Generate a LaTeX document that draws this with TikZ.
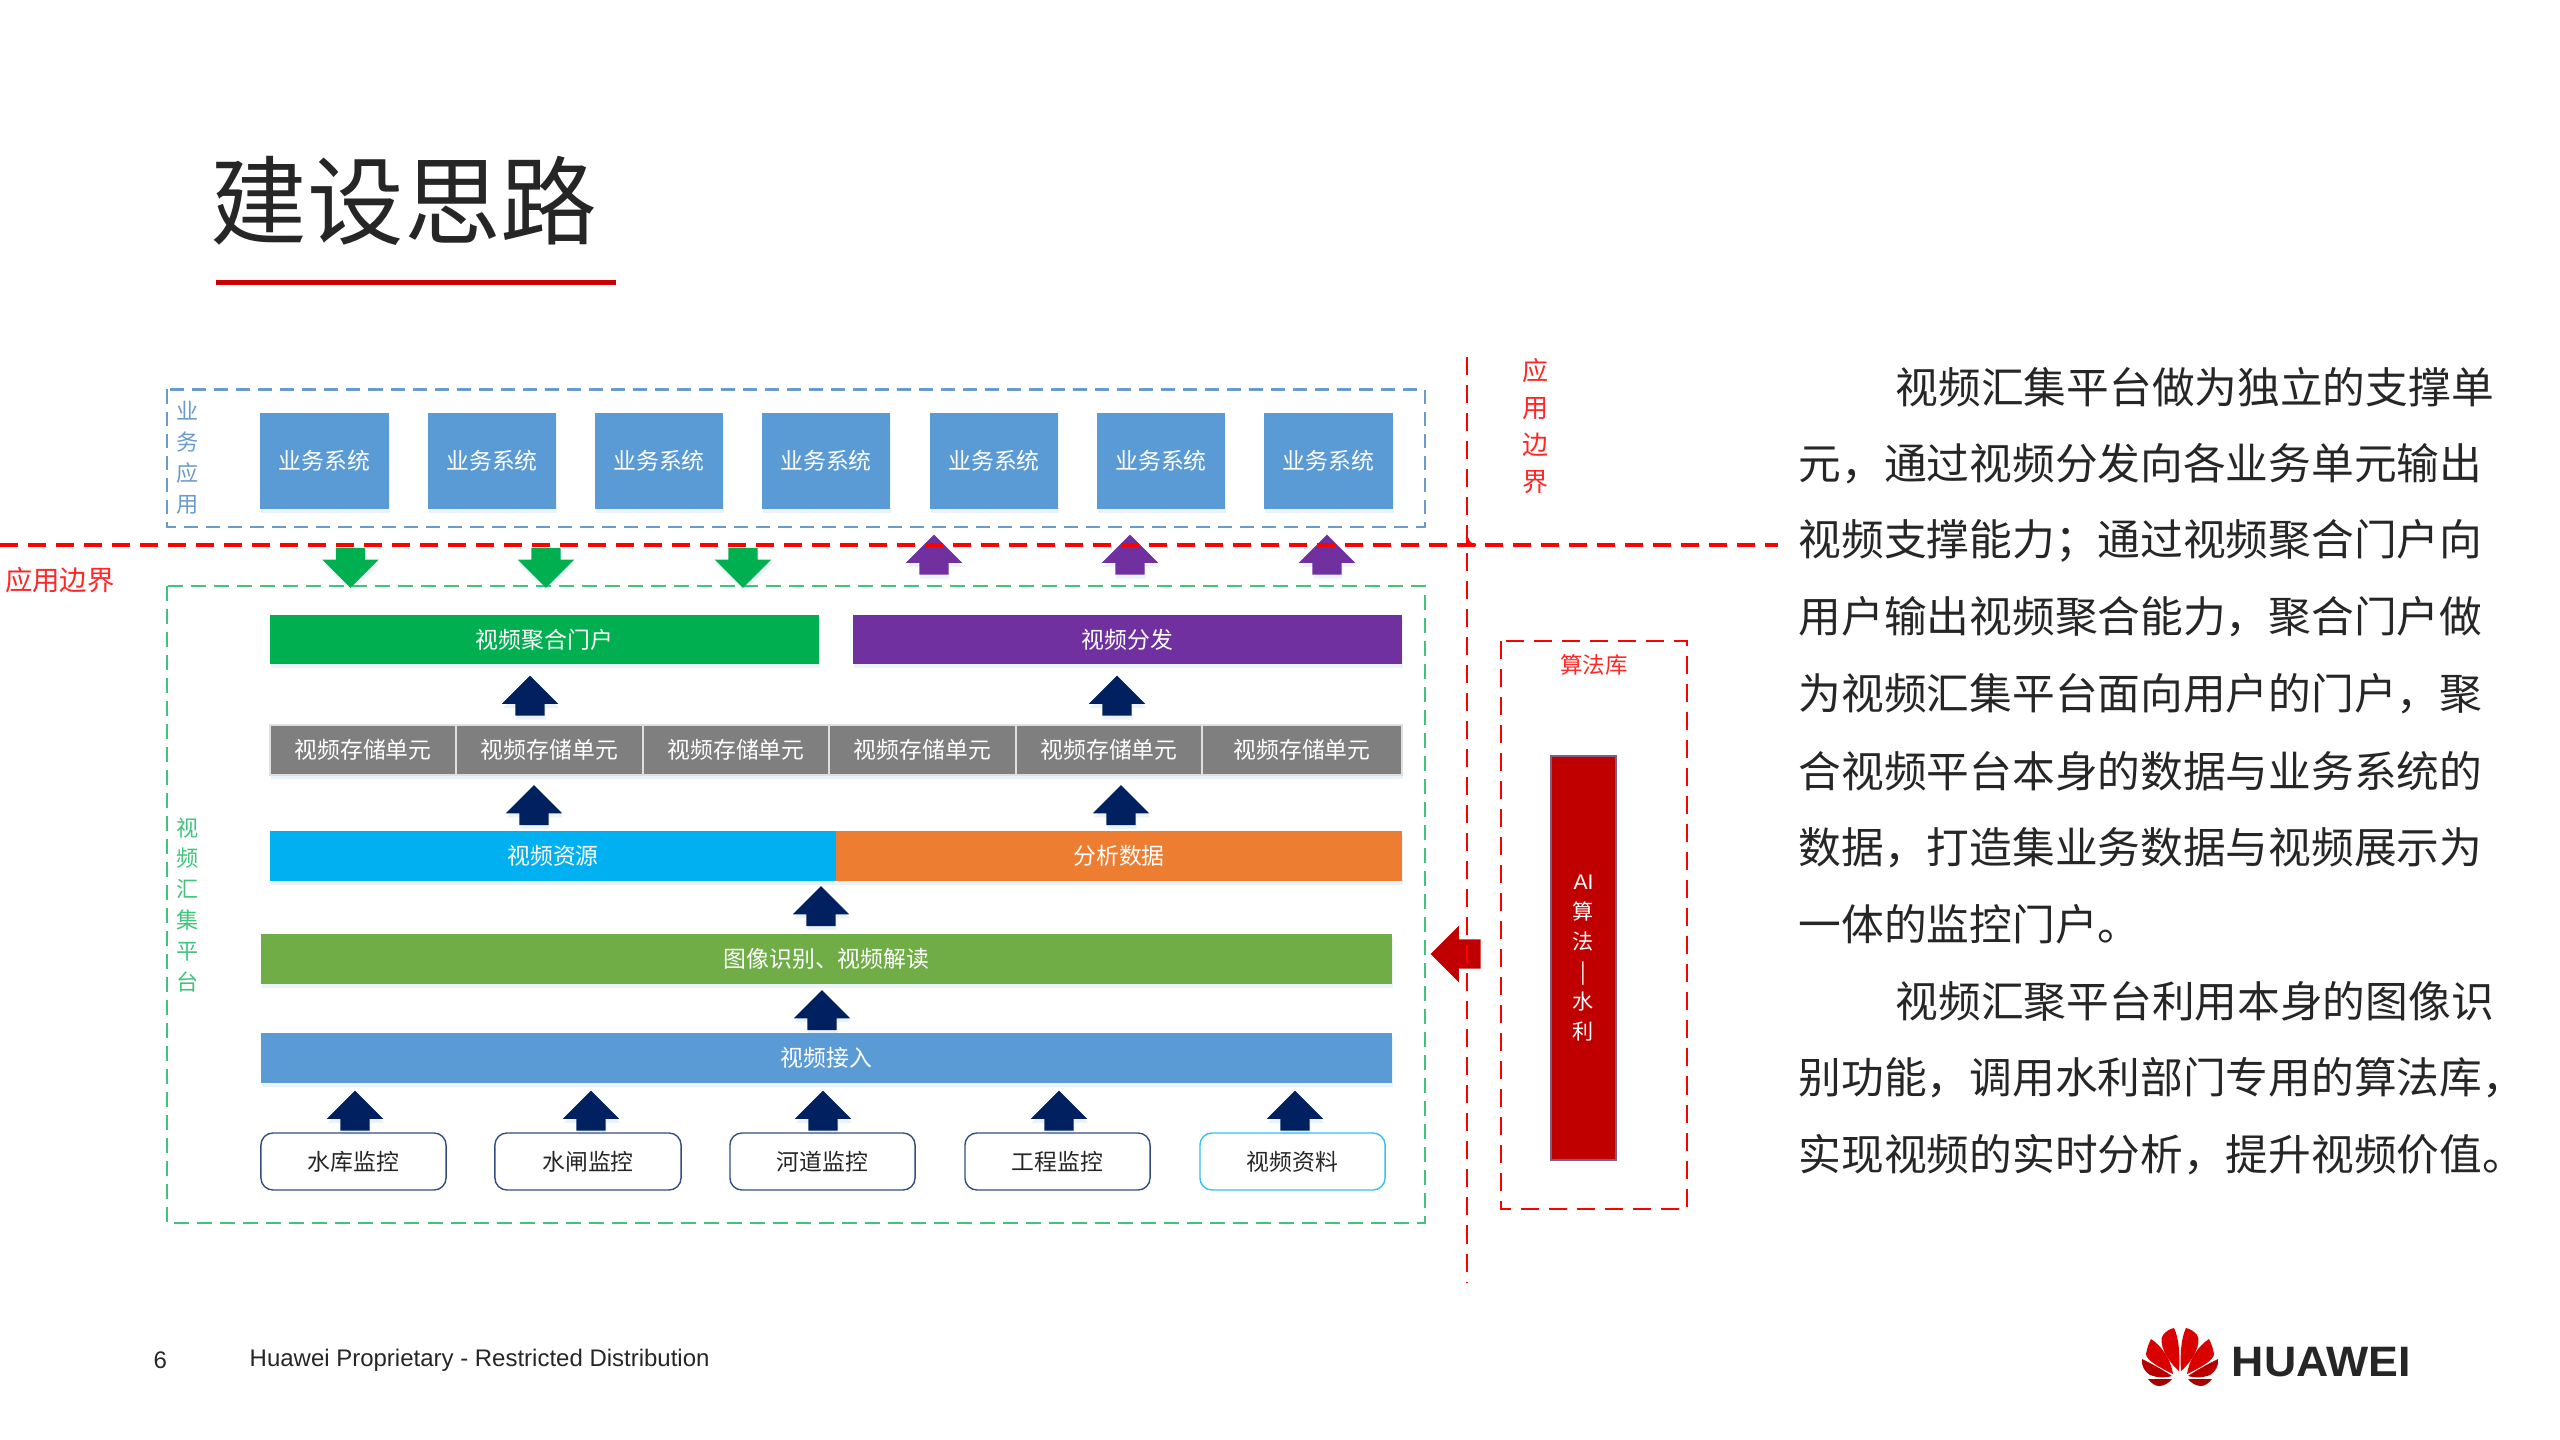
\documentclass[tikz,border=0pt]{standalone}
\usepackage{fontspec}
\setmainfont{Noto Sans CJK SC}
\newfontfamily\latinfont{Liberation Sans}
\definecolor{HWblue}{HTML}{5B9BD5}
\definecolor{HWframe}{HTML}{6A9BCB}
\definecolor{HWgreen}{HTML}{00B050}
\definecolor{HWpurple}{HTML}{7030A0}
\definecolor{HWgray}{HTML}{7F7F7F}
\definecolor{HWcyan}{HTML}{00B0F0}
\definecolor{HWorange}{HTML}{ED7D31}
\definecolor{HWleaf}{HTML}{70AD47}
\definecolor{HWnavy}{HTML}{002060}
\definecolor{HWred}{HTML}{C00000}
\definecolor{HWline}{HTML}{FF0000}
\definecolor{HWink}{HTML}{262626}
\usetikzlibrary{shapes.arrows, shadows}
\tikzset{
   softshadow/.style={drop shadow={shadow xshift=0.01cm, shadow yshift=-0.04cm, opacity=0.12, fill=HWblue}},
   tinyfont/.style={font=\fontsize{6.5}{8}\selectfont},
   barbox/.style={rectangle, fill=#1, inner sep=0pt, text=white, tinyfont, softshadow},
   sysbox/.style={barbox=HWblue, minimum width=1.28cm, minimum height=0.96cm},
   wideblue/.style={minimum width=11.31cm, minimum height=0.5cm},
   cellbox/.style={barbox=HWgray, draw=white!75!HWgray, line width=0.4pt, minimum height=0.5cm},
   srcbox/.style={rectangle, rounded corners=0.12cm, draw=#1, fill=white, line width=0.4pt, inner sep=0pt,
      minimum height=0.57cm, text=HWink, tinyfont},
   frameblue/.style={draw=HWframe, dash pattern=on 0.14cm off 0.08cm, line width=0.6pt},
   framegreen/.style={draw=HWgreen!75!white, dash pattern=on 0.15cm off 0.08cm, line width=0.6pt},
   redline/.style={draw=HWline, dash pattern=on 0.18cm off 0.10cm, line width=0.8pt},
   blockup/.style={single arrow, fill=#1, draw=none, inner xsep=0.14cm, inner ysep=0pt, minimum height=0.4cm,
      single arrow head extend=0.135cm, shape border rotate=90, yshift=-0.06cm, softshadow},
   blockdown/.style={blockup=#1, shape border rotate=270, yshift=0.12cm},
   sidetext/.style={align=center, inner sep=0pt},
   bodyline/.style={anchor=west, inner sep=0pt, text=HWink, font=\fontsize{12.15}{14}\selectfont},
}
\begin{document}
\begin{tikzpicture}[x=0.01cm, y=-0.01cm]
   \useasboundingbox (0,0) rectangle (2560,1440);
   % Title
   \node[inner sep=0pt, text=HWink, font=\fontsize{27.5}{30}\selectfont] (title) at (404,201) {建设思路};
   \fill[red!80!black] (216,280) rectangle (616,285.5);
   % Frames
   \draw[frameblue] (167,389.5) rectangle (1425,527);
   \draw[framegreen] (167,586) rectangle (1425,1223);
   \draw[redline] (1501,641) rectangle (1687,1209);
   % Business systems
   \foreach \cx [count=\i] in {324.5,492,659,826,994,1161,1328.5}
      \node[sysbox] (sys\i) at (\cx,461) {业务系统};
   \node[sidetext, text=HWframe, font=\fontsize{6.3}{8.8}\selectfont] (bizlabel) at (188,458) {业\\务\\应\\用};
   % Portal and distribution
   \node[barbox=HWgreen, minimum width=5.49cm, minimum height=0.49cm] (portal) at (544.5,639.5) {视频聚合门户};
   \node[barbox=HWpurple, minimum width=5.49cm, minimum height=0.49cm] (dist) at (1127.5,639.5) {视频分发};
   % Storage cells
   \foreach \cx/\w [count=\i] in {363/1.86,549.5/1.87,736/1.86,922.5/1.87,1109/1.86,1302/2.00}
      \node[cellbox, minimum width=\w cm] (cell\i) at (\cx,750) {视频存储单元};
   % Stacked bars
   \node[barbox=HWcyan, minimum width=5.66cm, minimum height=0.5cm] (video) at (553,856) {视频资源};
   \node[barbox=HWorange, minimum width=5.66cm, minimum height=0.5cm] (data) at (1119,856) {分析数据};
   \node[barbox=HWleaf, wideblue] (ident) at (826.5,959) {图像识别、视频解读};
   \node[barbox=HWblue, wideblue] (access) at (826.5,1058) {视频接入};
   % Sources
   \foreach \cx/\w/\col/\txt [count=\i] in {353.5/1.85/HWnavy!80!white/水库监控, 588/1.86/HWnavy!80!white/水闸监控, 822.5/1.85/HWnavy!80!white/河道监控,
         1057.5/1.85/HWnavy!80!white/工程监控, 1292.5/1.85/HWcyan!80!white/视频资料}
      \node[srcbox=\col, minimum width=\w cm] (src\i) at (\cx,1161.5) {\txt};
   % Arrows between the layers
   \foreach \cx [count=\i] in {355,591,823,1059,1295}
      \node[blockup=HWnavy] (srcup\i) at (\cx,1112) {};
   \node[blockup=HWnavy] (accessup) at (822,1011.5) {};
   \node[blockup=HWnavy] (identup) at (821,907.5) {};
   \node[blockup=HWnavy] (videoup) at (534,806.5) {};
   \node[blockup=HWnavy] (dataup) at (1121,806.5) {};
   \node[blockup=HWnavy] (cellup) at (530,697) {};
   \node[blockup=HWnavy] (celluptwo) at (1117,697) {};
   \foreach \cx [count=\i] in {350.5,546,743}
      \node[blockdown=HWgreen] (down\i) at (\cx,566.5) {};
   \foreach \cx [count=\i] in {934,1130,1327}
      \node[blockup=HWpurple] (up\i) at (\cx,556) {};
   \node[single arrow, fill=HWred, inner xsep=0pt, inner ysep=0.14cm, minimum height=0.5cm,
      single arrow head extend=0.135cm, shape border rotate=180] (algoarrow) at (1463,954) {};
   % Algorithm bar
   \node[rectangle, fill=HWred, draw=HWblue!60!HWred, line width=0.4pt, minimum width=0.65cm, minimum height=4.04cm] (algobar) at (1583.5,958) {};
   \node[sidetext, text=white, font=\fontsize{6}{8.5}\selectfont] (algotext) at (1583.5,958) {{\latinfont AI}\\算\\法\\|\\水\\利};
   \node[inner sep=0pt, text=HWline!85!white, font=\fontsize{6.4}{8}\selectfont] (algolabel) at (1594,665) {算法库};
   % Platform label
   \node[sidetext, text=HWgreen!75!white, font=\fontsize{6.3}{8.8}\selectfont] (platlabel) at (188,905) {视\\频\\汇\\集\\平\\台};
   % Boundary lines
   \coordinate (hleft) at (0,545);
   \coordinate (hright) at (1778,545);
   \coordinate (vtop) at (1467,357);
   \coordinate (vbot) at (1467,1282);
   \coordinate (bend) at (1467,538);
   \coordinate (bendend) at (1476,545);
   \draw[redline, line width=1pt] (hleft) -- (hright);
   \draw[redline] (vtop) -- (vbot);
   \draw[HWline, line width=0.8pt] (bend) .. controls (1468,543) and (1471,545) .. (bendend);
   \node[inner sep=0pt, text=HWline!85!white, font=\fontsize{7.8}{9}\selectfont] (leftbound) at (60,580) {应用边界};
   \node[sidetext, text=HWline!85!white, font=\fontsize{7.4}{10.5}\selectfont] (rightbound) at (1535,426) {应\\用\\边\\界};
   % Description
   \foreach \px/\py/\txt [count=\i] in {1895/387/视频汇集平台做为独立的支撑单,
         1798/464/元，通过视频分发向各业务单元输出,
         1798/541/视频支撑能力；通过视频聚合门户向,
         1798/617/用户输出视频聚合能力，聚合门户做,
         1798/694/为视频汇集平台面向用户的门户，聚,
         1798/771/合视频平台本身的数据与业务系统的,
         1798/848/数据，打造集业务数据与视频展示为,
         1798/924/一体的监控门户。,
         1895/1001/视频汇聚平台利用本身的图像识,
         1798/1078/别功能，调用水利部门专用的算法库，,
         1798/1155/实现视频的实时分析，提升视频价值。}
      \node[bodyline] (line\i) at (\px,\py) {\txt};
   % Footer
   \node[anchor=west, inner sep=0pt, text=HWink, font=\latinfont\fontsize{6.82}{8}\selectfont] (pagenum) at (153,1360) {6};
   \node[anchor=west, inner sep=0pt, text=HWink, font=\latinfont\fontsize{6.82}{8}\selectfont] (footer) at (249,1360) {Huawei Proprietary - Restricted Distribution};
   % Logo
   \foreach \sx in {-1,1} {
      \begin{scope}[shift={(2180,1300)}, xscale=\sx]
         \fill[red!85!black] (-1,71) .. controls (-14,60) and (-22,42) .. (-17,35) .. controls (-14,31) and (-10,29) .. (-6,28) .. controls (-1,38) and (0,55) .. (-1,71);
         \fill[red!85!black] (-7,74) .. controls (-20,68) and (-34,60) .. (-34,54) .. controls (-33,48) and (-31,43) .. (-29,39) .. controls (-18,46) and (-9,60) .. (-7,74);
         \fill[red!72!black] (-8,76) .. controls (-20,68) and (-30,63) .. (-38,59) .. controls (-39,66) and (-35,72) .. (-30,75) .. controls (-22,78) and (-14,78) .. (-8,76);
         \fill[red!65!black] (-8,79) -- (-32,79) .. controls (-29,83) and (-25,86) .. (-21,86) .. controls (-16,86) and (-11,83) .. (-8,79);
      \end{scope}
   }
   \node[anchor=west, inner sep=0pt, xscale=1.05, text=HWink, font=\latinfont\bfseries\fontsize{12.1}{14}\selectfont] (logotext) at (2231,1362) {HUAWEI};
\end{tikzpicture}
\end{document}
